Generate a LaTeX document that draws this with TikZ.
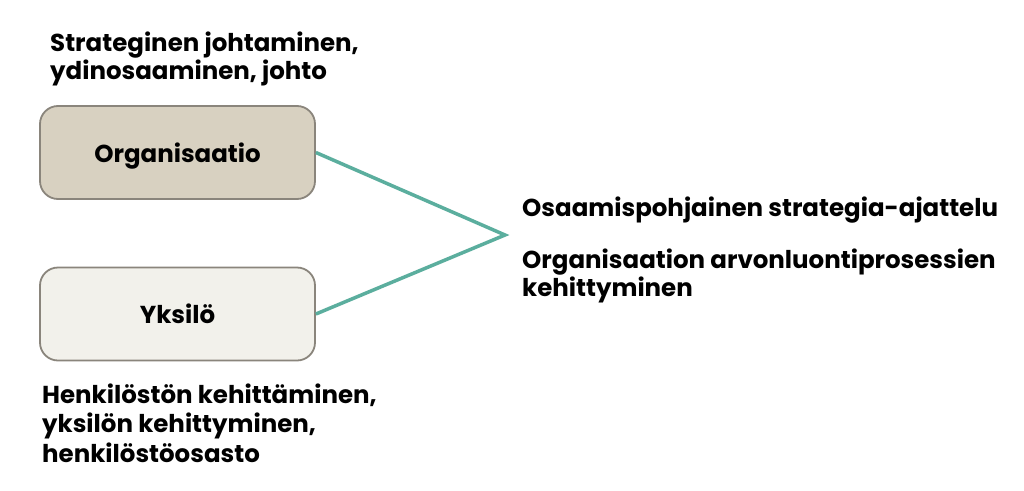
\documentclass[tikz,border=0pt]{standalone}
\usepackage{fontspec}
\setmainfont{Poppins}[BoldFont=* Bold]
\definecolor{orgfill}{HTML}{D8D1C1}
\definecolor{indfill}{HTML}{F2F1EB}
\definecolor{boxline}{HTML}{8A857C}
\definecolor{teal}{HTML}{5BAE9E}
\begin{document}
\begin{tikzpicture}[x=1pt,y=-1pt,
  box/.style={draw=boxline, line width=1.8pt, rounded corners=18pt, minimum width=275pt, minimum height=93pt, font=\fontsize{24.5}{28}\selectfont\bfseries, inner sep=0pt, text depth=0pt},
  txt/.style={anchor=west, align=left, inner sep=0pt, font=\fontsize{24.5}{28}\selectfont\bfseries},
  link/.style={draw=teal, line width=3.5pt}]
\useasboundingbox (0,0) rectangle (1024,490);
\fill[white] (0,0) rectangle (1024,490);
\node[box, fill=orgfill] (org) at (177.5,152.5) {Organisaatio};
\node[box, fill=indfill] (ind) at (177.5,314) {Yksilö};
\coordinate (tip) at (505,235);
\draw[link] (org.east) -- (tip) -- (ind.east);
\node[txt] (t1) at (50,59) {Strateginen johtaminen,\\ydinosaaminen, johto};
\node[txt] (t2) at (522,250) {Osaamispohjainen strategia-ajattelu\\[24pt]Organisaation arvonluontiprosessien\\kehittyminen};
\node[txt, font=\fontsize{24.5}{29.5}\selectfont\bfseries] (t3) at (42,423) {Henkilöstön kehittäminen,\\yksilön kehittyminen,\\henkilöstöosasto};
\end{tikzpicture}
\end{document}
